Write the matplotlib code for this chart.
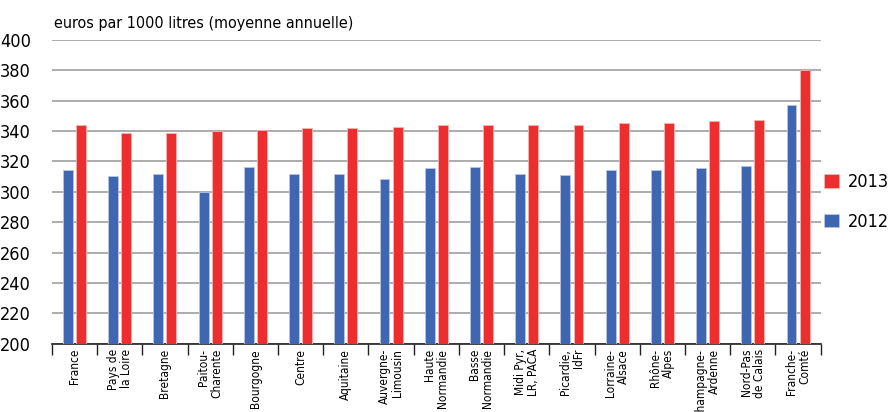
import matplotlib.pyplot as plt
import numpy as np

plt.rcParams['font.family'] = ['DejaVu Sans']
plt.rcParams['font.stretch'] = 'condensed'

regions = ["France", "Pays de\nla Loire", "Bretagne", "Paitou-\nCharente", "Bourgogne",
           "Centre", "Aquitaine", "Auvergne-\nLimousin", "Haute\nNormandie",
           "Basse\nNormandie", "Midi Pyr,\nLR, PACA", "Picardie,\nIdFr", "Lorraine-\nAlsace",
           "Rhône-\nAlpes", "Champagne-\nArdenne", "Nord-Pas\nde Calais", "Franche-\nComté"]
prix_2012 = [314.5, 310.1, 312.0, 299.6, 316.1, 311.4, 311.9, 308.4, 315.7,
             316.6, 311.4, 310.8, 314.5, 314.6, 315.7, 316.8, 357.4]
prix_2013 = [343.9, 338.5, 339.0, 339.8, 341.0, 341.7, 342.2, 342.4, 343.7,
             344.1, 344.3, 344.3, 345.2, 345.6, 346.7, 347.3, 380.0]

blue = '#3F67B1'
red = '#EE2E2E'

fig = plt.figure(figsize=(8.94, 4.12), dpi=100)
ax = fig.add_axes([0.058, 0.166, 0.86, 0.737])

x = np.arange(len(regions))
w = 0.22
ax.bar(x - 0.145, prix_2012, w, color=blue, edgecolor='#b8c6e6', linewidth=0.6, label='2012', zorder=3)
ax.bar(x + 0.145, prix_2013, w, color=red, edgecolor='#f6b3b3', linewidth=0.6, label='2013', zorder=3)

ax.set_ylim(200, 400)
ax.set_xlim(-0.5, len(regions) - 0.5)
ax.set_yticks(range(200, 401, 20))
ax.tick_params(axis='y', length=0, labelsize=13, pad=15)
ax.yaxis.grid(True, color='#a6a6a6', linewidth=1.3, zorder=0)
for s in ['left', 'right', 'top']:
    ax.spines[s].set_visible(False)
ax.spines['bottom'].set_color('#222222')
ax.spines['bottom'].set_linewidth(1.2)

# ticks between categories, labels centred under bars
ax.set_xticks(np.arange(len(regions) + 1) - 0.5)
ax.set_xticklabels([])
ax.tick_params(axis='x', direction='out', length=8, width=1, color='#222222')
for i, r in enumerate(regions):
    ax.text(i, 196.5, r, rotation=90, ha='center', va='top', multialignment='right',
            fontsize=8.6, linespacing=1.0)

ax.text(0.003, 1.03, "euros par 1000 litres (moyenne annuelle)", transform=ax.transAxes,
        fontsize=11.5, ha='left', va='bottom')

h, l = ax.get_legend_handles_labels()
fig.legend(h[::-1], l[::-1], loc='center left', bbox_to_anchor=(0.922, 0.51), frameon=False,
           fontsize=13, handlelength=0.8, handleheight=0.8, labelspacing=1.2, handletextpad=0.5,
           borderpad=0, borderaxespad=0)

fig.savefig('out.png', dpi=100)
